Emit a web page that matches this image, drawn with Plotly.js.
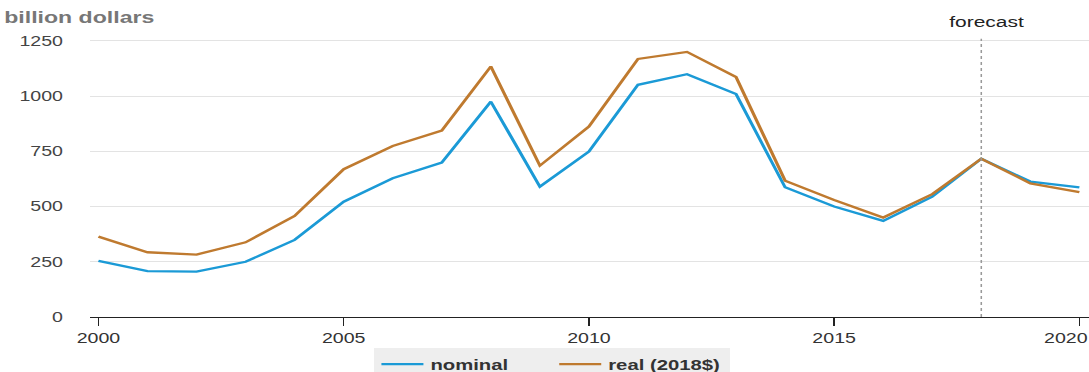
<!DOCTYPE html>
<html>
<head>
<meta charset="utf-8">
<script src="https://cdn.plot.ly/plotly-3.0.1.min.js"></script>
<style>
html,body{margin:0;padding:0;background:#fff;overflow:hidden;width:1089px;height:372px;}
#chart{width:778px;height:372px;transform:scaleX(1.4);transform-origin:0 0;}
</style>
</head>
<body>
<div id="chart"></div>
<script>
const years = [2000,2001,2002,2003,2004,2005,2006,2007,2008,2009,2010,2011,2012,2013,2014,2015,2016,2017,2018,2019,2020];
const nominal = [254,208,205,250,349,522,628,699,975,590,749,1051,1099,1009,587,500,435,545,716,613,587];
const real = [364,293,282,338,457,669,774,844,1134,685,862,1168,1200,1086,617,530,450,556,716,605,565];
const yTicks = [0,250,500,750,1000,1250];
const xTicks = [2000,2005,2010,2015,2020];
const forecastYear = 2018;

const font = 'Liberation Sans, Arial, sans-serif';
const lastTick = xTicks[xTicks.length - 1];
// last label is nudged left so it stays inside the picture, as in the reference
const xTickText = xTicks.map(v => v === lastTick ? String(v) + '\u00a0\u00a0\u00a0\u00a0\u00a0' : String(v));

const data = [
  {x: years, y: nominal, name: 'nominal', type: 'scatter', mode: 'lines',
   line: {color: '#1b9ad6', width: 2.3}},
  {x: years, y: real, name: 'real (2018$)', type: 'scatter', mode: 'lines',
   line: {color: '#bf7a2f', width: 2.3}}
];
const layout = {
  width: 778, height: 372,
  margin: {l: 64, r: 0, t: 32, b: 55},
  paper_bgcolor: '#fff', plot_bgcolor: '#fff',
  font: {family: font, color: '#333', size: 14},
  showlegend: true,
  legend: {orientation: 'h', xref: 'container', yref: 'container', x: 0.507, xanchor: 'center',
           y: 0.064, yanchor: 'top', bgcolor: '#eeeeee', entrywidth: 82,
           font: {family: font, size: 14.5, color: '#333', weight: 'bold'}},
  xaxis: {range: [1999.82, 2020.2], tickvals: xTicks, ticktext: xTickText,
          showgrid: false, zeroline: false, showline: true, linecolor: '#222', linewidth: 1,
          ticks: 'outside', ticklen: 8, tickcolor: '#222', ticklabeloverflow: 'allow',
          tickfont: {size: 14, color: '#333'}},
  yaxis: {range: [0, 1290], tickvals: yTicks, ticktext: yTicks.map(String),
          showgrid: true, gridcolor: '#e3e3e3', zeroline: false, showline: false,
          ticks: '', ticklabelstandoff: 18, tickfont: {size: 14, color: '#444'}},
  shapes: [{type: 'line', xref: 'x', yref: 'y', x0: forecastYear, x1: forecastYear, y0: 0, y1: 1260,
            line: {color: '#999', width: 1.1, dash: 'dot'}}],
  annotations: [
    {text: 'forecast', xref: 'x', yref: 'paper', x: forecastYear, xshift: 4, y: 1, yanchor: 'bottom',
     showarrow: false, font: {size: 15, color: '#222'}, yshift: 0},
    {text: '<b>billion dollars</b>', xref: 'paper', yref: 'paper', x: -0.088, y: 1.0526,
     xanchor: 'left', yanchor: 'middle', showarrow: false, font: {size: 16.5, color: '#777'}}
  ]
};
Plotly.newPlot('chart', data, layout, {displayModeBar: false, staticPlot: true});
</script>
</body>
</html>
